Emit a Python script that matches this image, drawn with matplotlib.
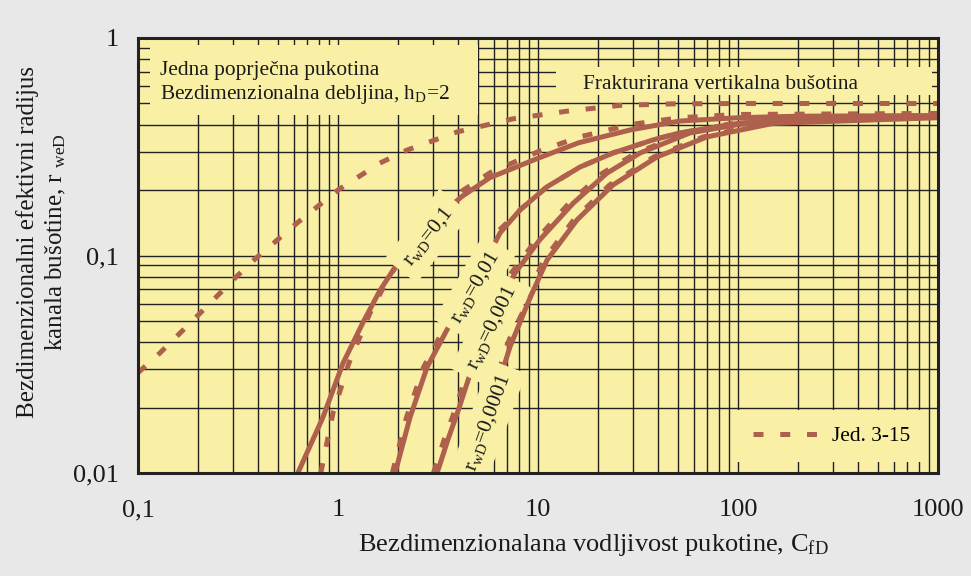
import matplotlib
matplotlib.use("Agg")
import matplotlib.pyplot as plt
from matplotlib.patches import Rectangle
from matplotlib.lines import Line2D

# Prats curve, fractured vertical well (dashed)
prats_cfd = [0.1, 0.129, 0.2, 0.309, 0.385, 0.624, 1.0, 1.62, 2.21, 3.94, 7.5, 14.0, 25.7, 47, 100, 1000]
prats_rwe = [0.0289, 0.0357, 0.0532, 0.0796, 0.0964, 0.141, 0.2, 0.266, 0.305, 0.37, 0.425, 0.461, 0.49, 0.498, 0.5, 0.5]

# transverse fracture, solid curves for each rwD
cfd_01 = [0.63, 0.84, 1.06, 1.33, 1.62, 2.0, 2.5, 3.2, 4.17, 5.75, 10, 16, 29, 51, 100, 200, 1000]
rwe_01 = [0.01, 0.018, 0.032, 0.049, 0.069, 0.093, 0.122, 0.152, 0.187, 0.228, 0.28, 0.33, 0.378, 0.415, 0.43, 0.437, 0.44]

cfd_001 = [1.93, 2.29, 2.79, 3.72, 4.6, 5.4, 6.46, 8.13, 11.1, 16.2, 23.7, 37.6, 51, 100, 200, 1000]
rwe_001 = [0.01, 0.018, 0.0307, 0.0504, 0.071, 0.092, 0.127, 0.162, 0.207, 0.255, 0.296, 0.34, 0.366, 0.405, 0.425, 0.437]

cfd_0001 = [3.13, 3.55, 4.0, 4.68, 5.5, 6.5, 7.67, 10.2, 15.0, 22.1, 32.4, 57.5, 100, 200, 1000]
rwe_0001 = [0.01, 0.0143, 0.0195, 0.0304, 0.044, 0.0617, 0.083, 0.118, 0.174, 0.239, 0.296, 0.366, 0.40, 0.425, 0.435]

cfd_00001 = [4.5, 5.3, 6.2, 7.24, 9.0, 11.1, 15.7, 23.7, 39.4, 70, 150, 1000]
rwe_00001 = [0.01, 0.0155, 0.024, 0.038, 0.062, 0.0953, 0.146, 0.211, 0.284, 0.351, 0.405, 0.43]

# Jed. 3-15 approximations (dashed)
eq_cfd_01 = [0.82, 0.944, 1.135, 1.445, 1.8, 2.3, 3.0, 4.17, 5.75, 10, 16, 29, 51, 100, 1000]
eq_rwe_01 = [0.01, 0.0189, 0.0321, 0.0544, 0.08, 0.11, 0.145, 0.198, 0.24, 0.30, 0.35, 0.40, 0.43, 0.445, 0.45]

eq_cfd_001 = [1.87, 2.2, 2.68, 3.57, 4.4, 5.2, 6.2, 8.13, 11.1, 16.2, 23.7, 37.6, 51, 100, 200, 1000]
eq_rwe_001 = [0.01, 0.018, 0.0307, 0.0504, 0.071, 0.092, 0.127, 0.162, 0.207, 0.255, 0.296, 0.34, 0.366, 0.405, 0.425, 0.437]

eq_cfd_0001 = [3.0, 3.4, 3.85, 4.5, 5.3, 6.25, 7.35, 9.8, 14.3, 21, 31, 55, 100, 200, 1000]
eq_rwe_0001 = [0.01, 0.0143, 0.0195, 0.0304, 0.044, 0.0617, 0.083, 0.118, 0.174, 0.239, 0.296, 0.366, 0.41, 0.43, 0.44]

eq_cfd_00001 = [4.3, 5.1, 5.95, 6.95, 8.65, 10.7, 15.1, 22.8, 38, 67, 145, 1000]
eq_rwe_00001 = [0.01, 0.0155, 0.024, 0.038, 0.062, 0.0953, 0.146, 0.211, 0.284, 0.351, 0.41, 0.435]

x_ticks = [0.1, 1, 10, 100, 1000]
x_ticklabels = ["0,1", "1", "10", "100", "1000"]
y_ticks = [0.01, 0.1, 1]
y_ticklabels = ["0,01", "0,1", "1"]

curve_labels = [r"r$_\mathregular{wD}$=0,1", r"r$_\mathregular{wD}$=0,01",
                r"r$_\mathregular{wD}$=0,001", r"r$_\mathregular{wD}$=0,0001"]
label_cfd = [2.82, 4.84, 5.82, 5.62]
label_rwe = [0.123, 0.0716, 0.0464, 0.0171]
label_rot = [52, 60, 64, 70]
label_pad = [0.45, 0.4, 0.4, 0.4]

plt.rcParams["font.family"] = ["Liberation Serif", "DejaVu Serif"]
plt.rcParams["mathtext.fontset"] = "custom"
plt.rcParams["mathtext.rm"] = "Liberation Serif"
plt.rcParams["mathtext.it"] = "Liberation Serif:italic"

bg = "#e8e8e8"
yellow = "#f9f0a6"
red = "#ae604d"
ink = "#222222"
dash = (0, (2.0, 3.35))
lw = 3.6

fig = plt.figure(figsize=(9.71, 5.76), dpi=100, facecolor=bg)
ax = fig.add_axes([138 / 971, 1 - 473 / 576, 800 / 971, 435 / 576])
ax.set_facecolor(yellow)
ax.set_xscale("log")
ax.set_yscale("log")
ax.set_xlim(0.1, 1000)
ax.set_ylim(0.01, 1)

ax.grid(True, which="both", color=ink, lw=1.0, zorder=0)
ax.set_axisbelow(True)
for s in ax.spines.values():
    s.set_linewidth(2.2)
    s.set_color(ink)
    s.set_zorder(10)

ax.set_xticks(x_ticks)
ax.set_xticklabels(x_ticklabels)
ax.set_yticks(y_ticks)
ax.set_yticklabels(y_ticklabels)
ax.tick_params(which="both", length=0, labelsize=19, colors="#1a1a1a")
ax.tick_params(axis="x", pad=19)
ax.tick_params(axis="y", pad=14)

# background boxes for the captions
ax.add_patch(Rectangle((0.015, 0.823), 0.41, 0.161, transform=ax.transAxes,
                       facecolor=yellow, edgecolor="none", zorder=1))
ax.add_patch(Rectangle((0.5225, 0.869), 0.47, 0.064, transform=ax.transAxes,
                       facecolor=yellow, edgecolor="none", zorder=1))

ax.plot(prats_cfd, prats_rwe, color=red, lw=lw, ls=dash, zorder=3)
for c, r in [(cfd_01, rwe_01), (cfd_001, rwe_001), (cfd_0001, rwe_0001), (cfd_00001, rwe_00001)]:
    ax.plot(c, r, color=red, lw=lw, solid_capstyle="butt", zorder=3)
for c, r in [(eq_cfd_01, eq_rwe_01), (eq_cfd_001, eq_rwe_001),
             (eq_cfd_0001, eq_rwe_0001), (eq_cfd_00001, eq_rwe_00001)]:
    ax.plot(c, r, color=red, lw=lw, ls=dash, zorder=3)

for txt, c, r, rot, pad in zip(curve_labels, label_cfd, label_rwe, label_rot, label_pad):
    ax.text(c, r, txt, fontsize=15.5, rotation=rot, rotation_mode="anchor",
            ha="center", va="center", color="#1a1a1a", zorder=5, clip_on=True,
            bbox=dict(boxstyle="square,pad=%s" % pad, facecolor=yellow, edgecolor="none"))

ax.text(0.0275, 0.895, "Jedna poprječna pukotina\nBezdimenzionalna debljina, h$_\\mathregular{D}$=2",
        transform=ax.transAxes, fontsize=15.4, va="center", ha="left",
        linespacing=1.15, color="#1a1a1a", zorder=6)
ax.text(0.556, 0.892, "Frakturirana vertikalna bušotina", transform=ax.transAxes,
        fontsize=15.4, va="center", ha="left", color="#1a1a1a", zorder=6)

handle = Line2D([], [], color=red, lw=lw, ls=dash)
leg = ax.legend([handle], ["Jed. 3-15"], loc="lower right", bbox_to_anchor=(0.985, 0.025),
                borderaxespad=0, fontsize=15.4, handlelength=3.05, handletextpad=0.65,
                borderpad=0.75, frameon=True, fancybox=False, framealpha=1)
leg.get_frame().set_facecolor(yellow)
leg.get_frame().set_edgecolor("none")
leg.set_zorder(6)

fig.text(42 / 971, 1 - 242 / 576,
         "Bezdimenzionalni efektivni radijus\nkanala bušotine, r $_\\mathregular{weD}$",
         rotation=90, ha="center", va="center", fontsize=18, linespacing=1.3,
         multialignment="center", color="#1a1a1a")
fig.text(593 / 971, 1 - 545 / 576, "Bezdimenzionalana vodljivost pukotine, C$_\\mathregular{fD}$",
         ha="center", va="center", fontsize=19, color="#1a1a1a")

fig.savefig("out.png", dpi=100, facecolor=bg)
